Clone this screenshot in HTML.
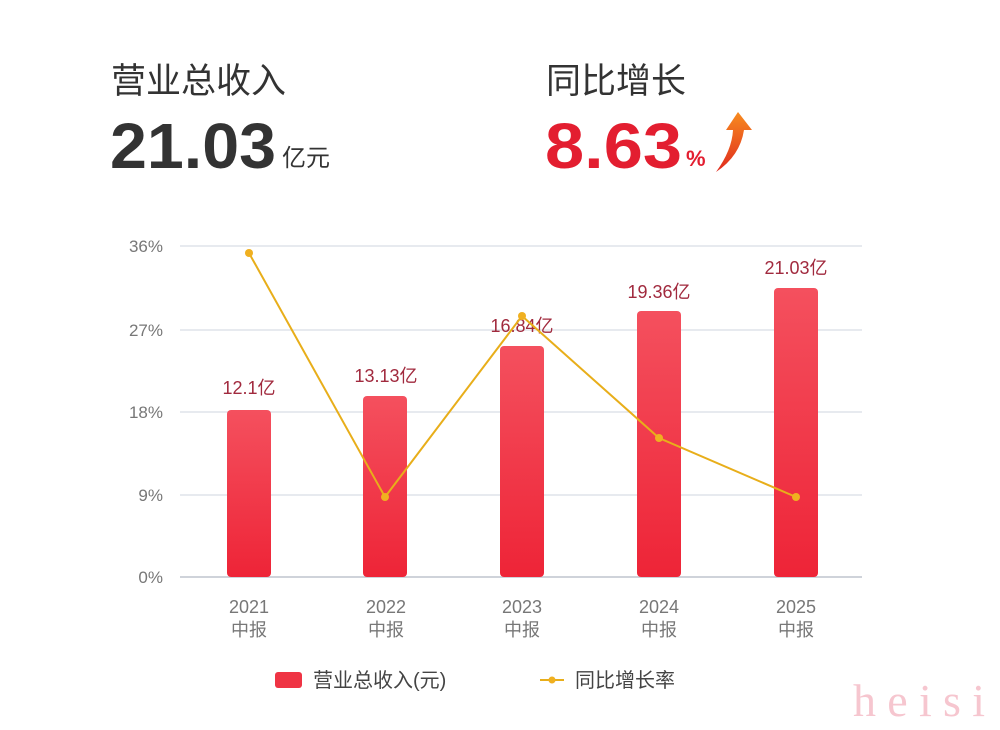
<!DOCTYPE html>
<html><head><meta charset="utf-8"><style>
body{margin:0;width:1000px;height:730px;background:#fff;overflow:hidden;font-family:"Liberation Sans","Noto Sans CJK SC",sans-serif;}
</style></head><body>
<svg width="1000" height="730" xmlns="http://www.w3.org/2000/svg" style="position:absolute;left:0;top:0">
<defs>
<linearGradient id="bg" x1="0" y1="0" x2="0" y2="1"><stop offset="0" stop-color="#f4505e"/><stop offset="1" stop-color="#ee2437"/></linearGradient>
<linearGradient id="ar" x1="0" y1="1" x2="0" y2="0"><stop offset="0" stop-color="#e02a1e"/><stop offset="1" stop-color="#f78b1f"/></linearGradient>
</defs>
<g font-family="Liberation Sans, Noto Sans CJK SC, sans-serif">
<text x="111" y="93" font-size="35" fill="#333">营业总收入</text>
<text x="110" y="168" font-size="64" font-weight="bold" fill="#333" textLength="166" lengthAdjust="spacingAndGlyphs">21.03</text>
<text x="282" y="166" font-size="24" fill="#333">亿元</text>
<text x="546" y="93" font-size="35" fill="#333">同比增长</text>
<text x="545" y="168" font-size="64" font-weight="bold" fill="#e31e30" textLength="137" lengthAdjust="spacingAndGlyphs">8.63</text>
<text x="686" y="166" font-size="22" font-weight="bold" fill="#e31e30">%</text>
<path d="M716 172 Q732 150 733 130 L726 130 L738 112 L752 130 L744 130 Q740 156 716 172 Z" fill="url(#ar)"/>
<g stroke="#dfe3ea" stroke-width="1.5">
<line x1="180" y1="246" x2="862" y2="246"/><line x1="180" y1="330" x2="862" y2="330"/>
<line x1="180" y1="412" x2="862" y2="412"/><line x1="180" y1="495" x2="862" y2="495"/>
<line x1="180" y1="577" x2="862" y2="577" stroke="#cfd3da" stroke-width="2"/>
</g>
<g font-size="17" fill="#777" text-anchor="end">
<text x="163" y="252">36%</text><text x="163" y="336">27%</text><text x="163" y="418">18%</text><text x="163" y="501">9%</text><text x="163" y="583">0%</text>
</g>
<g fill="url(#bg)">
<rect x="227" y="410" width="44" height="167" rx="4"/>
<rect x="363" y="396" width="44" height="181" rx="4"/>
<rect x="500" y="346" width="44" height="231" rx="4"/>
<rect x="637" y="311" width="44" height="266" rx="4"/>
<rect x="774" y="288" width="44" height="289" rx="4"/>
</g>
<g font-size="18" fill="#a12a3e" text-anchor="middle">
<text x="249" y="394">12.1亿</text><text x="386" y="382">13.13亿</text><text x="522" y="332">16.84亿</text><text x="659" y="298">19.36亿</text><text x="796" y="274">21.03亿</text>
</g>
<polyline points="249,253 385,497 522,316 659,438 796,497" fill="none" stroke="#e8ae1a" stroke-width="2"/>
<g fill="#f0b020"><circle cx="249" cy="253" r="4"/><circle cx="385" cy="497" r="4"/><circle cx="522" cy="316" r="4"/><circle cx="659" cy="438" r="4"/><circle cx="796" cy="497" r="4"/></g>
<g font-size="18" fill="#777" text-anchor="middle">
<text x="249" y="613">2021</text><text x="249" y="636">中报</text>
<text x="386" y="613">2022</text><text x="386" y="636">中报</text>
<text x="522" y="613">2023</text><text x="522" y="636">中报</text>
<text x="659" y="613">2024</text><text x="659" y="636">中报</text>
<text x="796" y="613">2025</text><text x="796" y="636">中报</text>
</g>
<rect x="275" y="672" width="27" height="16" rx="3" fill="#ef3444"/>
<text x="313" y="687" font-size="20" fill="#444">营业总收入(元)</text>
<line x1="540" y1="680" x2="564" y2="680" stroke="#e8ae1a" stroke-width="2"/>
<circle cx="552" cy="680" r="3.5" fill="#f0b020"/>
<text x="575" y="687" font-size="20" fill="#444">同比增长率</text>
<text x="853" y="716" font-size="46" fill="#f6c6cf" font-family="Liberation Serif, serif" textLength="132" lengthAdjust="spacing">heisi</text>
</g>
</svg>
</body></html>
